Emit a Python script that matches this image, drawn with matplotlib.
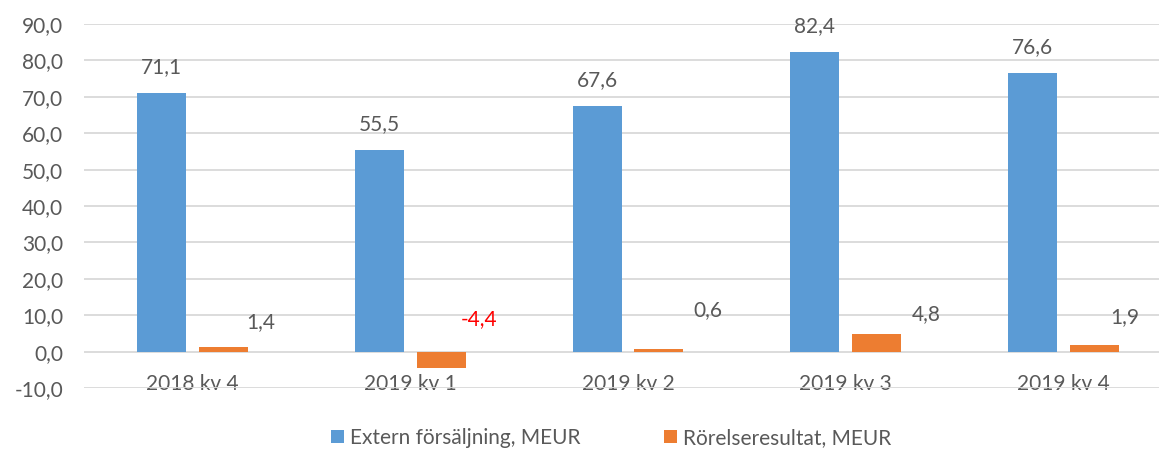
import numpy as np
import matplotlib
matplotlib.use('Agg')
import matplotlib.pyplot as plt

categories = ['2018 kv 4', '2019 kv 1', '2019 kv 2', '2019 kv 3', '2019 kv 4']
sales = [71.1, 55.5, 67.6, 82.4, 76.6]
ebit = [1.4, -4.4, 0.6, 4.8, 1.9]
sales_name = 'Extern försäljning, MEUR'
ebit_name = 'Rörelseresultat, MEUR'

blue = '#5b9bd5'
orange = '#ed7d31'
grey = '#595959'

plt.rcParams['font.family'] = ['Lato', 'DejaVu Sans']
plt.rcParams['font.size'] = 15

fig = plt.figure(figsize=(11.59, 4.5), dpi=100)
ax = fig.add_axes([84 / 1159, 1 - 388 / 450, 1088 / 1159, 364 / 450])

x = np.arange(len(categories))
w = 0.225
off = 0.142
b1 = ax.bar(x - off, sales, w, color=blue, label=sales_name, zorder=2)
b2 = ax.bar(x + off, ebit, w, color=orange, label=ebit_name, zorder=2)

ax.set_xlim(-0.5, len(categories) - 0.5)
ax.set_ylim(-10, 90)
ax.set_yticks(np.arange(-10, 91, 10))
ax.set_yticklabels([f'{v:.1f}'.replace('.', ',') for v in np.arange(-10, 91, 10)])
ax.grid(axis='y', color='#d9d9d9', linewidth=1.3, zorder=0)
for s in ax.spines.values():
    s.set_visible(False)

ax.spines['bottom'].set_position(('data', 0))
ax.set_xticks(x)
ax.set_xticklabels(categories)
ax.tick_params(axis='x', length=0, pad=16, colors=grey)
ax.tick_params(axis='y', length=0, pad=15, colors=grey)

# data labels
for xi, v in zip(x - off, sales):
    ax.annotate(f'{v:.1f}'.replace('.', ','), (xi, v), xytext=(0, 18.5),
                textcoords='offset points', ha='center', va='center', color=grey)

ebit_dx = [27, 27, 35, 36, 22]
ebit_y = [8.2, 8.8, 11.5, 10.2, 9.6]
for xi, v, dx, ly in zip(x + off, ebit, ebit_dx, ebit_y):
    ax.annotate(f'{v:.1f}'.replace('.', ','), (xi, ly), xytext=(dx, 0),
                textcoords='offset points', ha='center', va='center',
                color='red' if v < 0 else grey)

fig.legend(handles=[b1, b2], loc='center', bbox_to_anchor=(0.527, 0.027), ncol=2,
           frameon=False, handlelength=0.62, handleheight=0.62, handletextpad=0.3,
           columnspacing=4.0, labelcolor=grey)

fig.savefig('out.png', dpi=100)
